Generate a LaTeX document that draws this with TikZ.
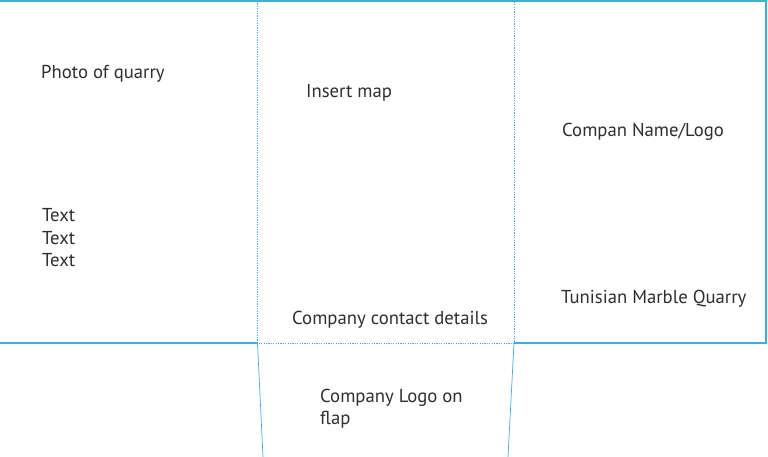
\documentclass[tikz,border=0pt]{standalone}
\usepackage{fontspec}
\setmainfont{PT Sans}
\definecolor{lineblue}{HTML}{3AB0DE}
\definecolor{txt}{HTML}{2E2E2E}
\begin{document}
\begin{tikzpicture}[x=1pt,y=-1pt,
  solidline/.style={draw=lineblue,line width=1.4pt},
  dotline/.style={draw=lineblue,line width=0.9pt,dash pattern=on 1.2pt off 1.2pt},
  flapline/.style={draw=lineblue,line width=0.7pt},
  lbl/.style={anchor=base west,inner sep=0pt,text=txt,font=\fontsize{18.7}{22}\selectfont}]
\useasboundingbox (0,0) rectangle (768,457);
\coordinate (tl) at (0,1);
\coordinate (tr) at (766,1);
\coordinate (br) at (766,343);
\coordinate (bl) at (0,343);
\coordinate (d1t) at (257.5,1);
\coordinate (d1b) at (257.5,343);
\coordinate (d2t) at (514,1);
\coordinate (d2b) at (514,343);
\coordinate (f1) at (263,457);
\coordinate (f2) at (508,457);
\draw[solidline] (tl) -- (tr) -- (br) -- (d2b);
\draw[solidline] (bl) -- (d1b);
\draw[dotline] (d1t) -- (d1b) -- (d2b) -- (d2t);
\draw[flapline] (d1b) -- (f1);
\draw[flapline] (d2b) -- (f2);
\node[lbl] (photo) at (41,79) {Photo of quarry};
\node[lbl] (map) at (306,98) {Insert map};
\node[lbl] (name) at (562,137) {Compan Name/Logo};
\node[lbl] (t1) at (42,222) {Text};
\node[lbl] (t2) at (42,244) {Text};
\node[lbl] (t3) at (42,266) {Text};
\node[lbl] (tmq) at (561,303) {Tunisian Marble Quarry};
\node[lbl] (contact) at (292,324) {Company contact details};
\node[lbl] (logo1) at (320,402) {Company Logo on};
\node[lbl] (logo2) at (320,424) {flap};
\end{tikzpicture}
\end{document}
